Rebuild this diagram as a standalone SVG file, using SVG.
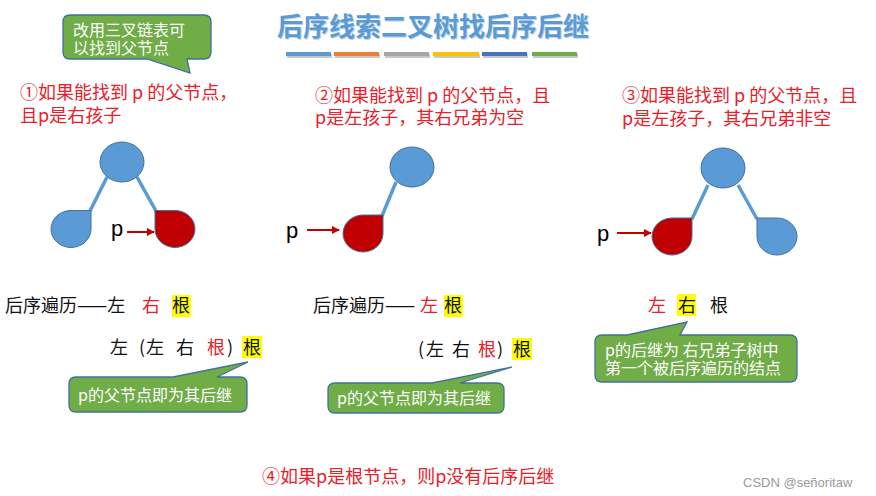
<svg xmlns="http://www.w3.org/2000/svg" width="876" height="496" viewBox="0 0 876 496">
<defs>
<style>
text{font-family:"Noto Sans CJK SC","Liberation Sans",sans-serif;}
.t{font-size:18px;fill:#111;}
.r{font-size:18px;fill:#E8202A;}
.co{fill:#70AD47;stroke:#41719C;stroke-width:1.3;}
.ct{font-size:16px;fill:#FFFFFF;}
.edge{stroke:#5B9BD5;stroke-width:3.5;fill:none;}
.bn{fill:#5B9BD5;stroke:#41719C;stroke-width:1;}
.rn{fill:#C00000;stroke:#41719C;stroke-width:1;}
.ar{stroke:#C00000;stroke-width:2;fill:none;marker-end:url(#ah);}
.pl{font-family:"Liberation Sans",Arial,sans-serif;font-size:22px;fill:#000;}
.hl{fill:#FFFF00;}
</style>
<marker id="ah" viewBox="0 0 10 10" refX="9" refY="5" markerWidth="4" markerHeight="4" orient="auto">
<path d="M0,0 L10,5 L0,10 Z" fill="#C00000"/>
</marker>
</defs>
<rect width="876" height="496" fill="#FFFFFF"/>

<g id="title">
<text x="278" y="37" style="font-size:26px;font-weight:bold;fill:#BFD3EA">后序线索二叉树找后序后继</text>
<text x="277" y="36" style="font-size:26px;font-weight:bold;fill:#5B9BD5">后序线索二叉树找后序后继</text>
<g fill="#C8C8C8">
<rect x="287" y="54" width="45" height="4"/><rect x="335" y="54" width="45" height="4"/><rect x="385" y="54" width="45" height="4"/><rect x="434" y="54" width="46" height="4"/><rect x="483" y="54" width="45" height="4"/><rect x="533" y="54" width="45" height="4"/>
</g>
<rect x="286" y="52" width="45" height="4" fill="#5B9BD5"/>
<rect x="334" y="52" width="45" height="4" fill="#ED7D31"/>
<rect x="384" y="52" width="45" height="4" fill="#A5A5A5"/>
<rect x="433" y="52" width="46" height="4" fill="#FFC000"/>
<rect x="482" y="52" width="45" height="4" fill="#4472C4"/>
<rect x="532" y="52" width="45" height="4" fill="#70AD47"/>
</g>

<g id="callout-top">
<path class="co" d="M70,15 H204 Q211,15 211,22 V52 Q211,59 204,59 H187 L190,73 L147,59 H70 Q63,59 63,52 V22 Q63,15 70,15 Z"/>
<text class="ct" x="73" y="36">改用三叉链表可</text>
<text class="ct" x="73" y="54">以找到父节点</text>
</g>

<g id="case1-text">
<text class="r" x="20" y="99">①如果能找到 p 的父节点，</text>
<text class="r" x="20" y="122">且p是右孩子</text>
</g>
<g id="case2-text">
<text class="r" x="315" y="102">②如果能找到 p 的父节点，且</text>
<text class="r" x="315" y="124">p是左孩子，其右兄弟为空</text>
</g>
<g id="case3-text">
<text class="r" x="622" y="102">③如果能找到 p 的父节点，且</text>
<text class="r" x="622" y="125">p是左孩子，其右兄弟非空</text>
</g>

<g id="connectors">
<line class="edge" x1="107" y1="177" x2="90" y2="211"/>
<line class="edge" x1="137" y1="177" x2="156" y2="211"/>
<line class="edge" x1="396" y1="182" x2="382" y2="216"/>
<line class="edge" x1="708" y1="185" x2="692" y2="219"/>
<line class="edge" x1="738" y1="185" x2="757" y2="219"/>
<line class="ar" x1="127" y1="232" x2="154" y2="232"/>
<line class="ar" x1="307" y1="230" x2="339" y2="230"/>
<line class="ar" x1="617" y1="233" x2="651" y2="233"/>
</g>

<g id="t1-root"><ellipse class="bn" cx="122" cy="162" rx="22" ry="20"/></g>
<g id="t1-left"><path class="bn" d="M71,210.5 H91 V229 A20,18.5 0 1 1 71,210.5 Z"/></g>
<g id="t1-p"><path class="rn" d="M155,210.5 H175 A20,18.5 0 1 1 155,229 Z"/><text class="pl" x="111" y="236">p</text></g>

<g id="t2-root"><ellipse class="bn" cx="412" cy="167" rx="22" ry="20"/></g>
<g id="t2-p"><path class="rn" d="M363,215 H383 V233.5 A20,18.5 0 1 1 363,215 Z"/><text class="pl" x="286" y="238">p</text></g>

<g id="t3-root"><ellipse class="bn" cx="723" cy="168" rx="22" ry="20"/></g>
<g id="t3-p"><path class="rn" d="M672,218 H692 V236.5 A20,18.5 0 1 1 672,218 Z"/><text class="pl" x="597" y="241">p</text></g>
<g id="t3-right"><path class="bn" d="M757,218 H777 A20,18.5 0 1 1 757,236.5 Z"/></g>

<g id="case1-order">
<text class="t" x="5" y="312">后序遍历——左</text>
<text class="r" x="142" y="312">右</text>
<rect class="hl" x="172" y="295" width="19" height="22"/>
<text class="t" x="172" y="312">根</text>
<text class="t" x="110" y="354">左</text>
<text class="t" x="139" y="354">(</text>
<text class="t" x="146" y="354">左</text>
<text class="t" x="176" y="354">右</text>
<text class="r" x="207" y="354">根</text>
<text class="t" x="227" y="354">)</text>
<rect class="hl" x="242" y="336" width="20" height="22"/>
<text class="t" x="243" y="354">根</text>
</g>

<g id="case2-order">
<text class="t" x="313" y="312">后序遍历——</text>
<text class="r" x="420" y="312">左</text>
<rect class="hl" x="444" y="295" width="19" height="22"/>
<text class="t" x="444" y="312">根</text>
<text class="t" x="418" y="356">(</text>
<text class="t" x="426" y="356">左</text>
<text class="t" x="452" y="356">右</text>
<text class="r" x="478" y="356">根</text>
<text class="t" x="497" y="356">)</text>
<rect class="hl" x="512" y="338" width="20" height="22"/>
<text class="t" x="513" y="356">根</text>
</g>

<g id="case3-order">
<text class="r" x="648" y="312">左</text>
<rect class="hl" x="677" y="294" width="19" height="22"/>
<text class="t" x="678" y="312">右</text>
<text class="t" x="710" y="312">根</text>
</g>

<g id="callout-1">
<path class="co" d="M76,377 H173 L248,362 L217,377 H240 Q247,377 247,384 V405 Q247,412 240,412 H76 Q69,412 69,405 V384 Q69,377 76,377 Z"/>
<text class="ct" x="78" y="401">p的父节点即为其后继</text>
</g>
<g id="callout-2">
<path class="co" d="M335,383 H432 L512,367 L460,383 H497 Q504,383 504,390 V406 Q504,413 497,413 H335 Q328,413 328,406 V390 Q328,383 335,383 Z"/>
<text class="ct" x="337" y="404">p的父节点即为其后继</text>
</g>
<g id="callout-3">
<path class="co" d="M602,335 H627 L687,322 L680,335 H790 Q797,335 797,342 V375 Q797,382 790,382 H602 Q595,382 595,375 V342 Q595,335 602,335 Z"/>
<text class="ct" x="605" y="356">p的后继为 右兄弟子树中</text>
<text class="ct" x="605" y="374">第一个被后序遍历的结点</text>
</g>

<g id="case4-text">
<text class="r" x="262" y="483">④如果p是根节点，则p没有后序后继</text>
</g>
<text x="743" y="487" style="font-family:'Liberation Sans',Arial,sans-serif;font-size:13px;fill:#9A9A9A">CSDN @señoritaw</text>
</svg>
